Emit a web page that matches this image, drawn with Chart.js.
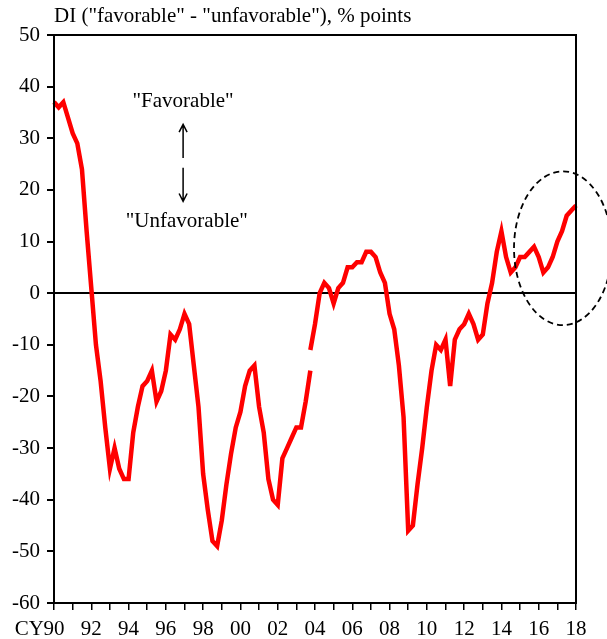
<!DOCTYPE html>
<html>
<head>
<meta charset="utf-8">
<script src="https://cdn.jsdelivr.net/npm/chart.js@4.4.1/dist/chart.umd.min.js"></script>
<style>
  html, body { margin: 0; padding: 0; background: #fff; }
  #wrap { width: 607px; height: 639px; }
</style>
</head>
<body>
<div id="wrap"><canvas id="chartDI"></canvas></div>
<script>
// ── Data: quarterly DI, CY1990 Q1 - CY2018 Q1 ────────────────────────────────
var firstYear = 1990;
var lastYear = 2018;
var tickYears = ['90', '92', '94', '96', '98', '00', '02', '04', '06', '08', '10', '12', '14', '16', '18'];

// old basis: 1990 Q1 - 2003 Q4
var diOld = [
    37, 36, 37, 34, 31, 29, 24, 12,
    1, -10, -17, -26, -34, -30, -34, -36,
    -36, -27, -22, -18, -17, -15, -21, -19,
    -15, -8, -9, -7, -4, -6, -14, -22,
    -35, -42, -48, -49, -44, -37, -31, -26,
    -23, -18, -15, -14, -22, -27, -36, -40,
    -41, -32, -30, -28, -26, -26, -21, -15
];
// new basis: 2003 Q4 - 2018 Q1
var diNew = [
    -11,
    -6, 0, 2, 1, -2, 1, 2, 5,
    5, 6, 6, 8, 8, 7, 4, 2,
    -4, -7, -14, -24, -46, -45, -37, -30,
    -22, -15, -10, -11, -9, -18, -9, -7,
    -6, -4, -6, -9, -8, -2, 2, 8,
    12, 7, 4, 5, 7, 7, 8, 9,
    7, 4, 5, 7, 10, 12, 15, 16,
    17
];

var quarters = [];
for (var y = firstYear; y <= lastYear; y++) {
    for (var q = 1; q <= 4; q++) {
        if (y === lastYear && q > 1) break;
        quarters.push(y + 'Q' + q);
    }
}
var breakIdx = diOld.length - 1;
var oldSeries = quarters.map(function (l, i) { return i < diOld.length ? diOld[i] : null; });
var newSeries = quarters.map(function (l, i) { return i >= breakIdx ? diNew[i - breakIdx] : null; });

var FONT = "'Liberation Serif','Times New Roman',serif";

// ── Plugin: frame, title, annotations, dashed ellipse ────────────────────────
var decor = {
    id: 'decor',
    afterDraw: function (chart) {
        var c = chart.ctx;
        var a = chart.chartArea;
        var xs = chart.scales.x;
        var ys = chart.scales.y;
        c.save();

        // frame
        c.strokeStyle = '#000';
        c.lineWidth = 2;
        c.strokeRect(a.left, a.top, a.right - a.left, a.bottom - a.top);

        c.fillStyle = '#000';
        c.font = '21px ' + FONT;

        // title
        c.textAlign = 'left';
        c.textBaseline = 'middle';
        c.fillText('DI ("favorable" - "unfavorable"), % points', a.left, 16);

        // CY prefix for the first year label
        c.textAlign = 'right';
        c.textBaseline = 'top';
        c.fillText('CY', xs.getPixelForValue(0) - 10, a.bottom + 16);

        // annotations
        c.textAlign = 'center';
        c.textBaseline = 'middle';
        c.fillText('"Favorable"', xs.getPixelForValue(27.7), ys.getPixelForValue(37.2));
        c.fillText('"Unfavorable"', xs.getPixelForValue(28.5), ys.getPixelForValue(13.8));

        var ax = xs.getPixelForValue(27.7);
        c.lineWidth = 1.5;
        c.beginPath();
        c.moveTo(ax, ys.getPixelForValue(26.2));
        c.lineTo(ax, ys.getPixelForValue(32.7));
        c.moveTo(ax - 4, ys.getPixelForValue(31.2));
        c.lineTo(ax, ys.getPixelForValue(32.7));
        c.lineTo(ax + 4, ys.getPixelForValue(31.2));

        c.moveTo(ax, ys.getPixelForValue(24.3));
        c.lineTo(ax, ys.getPixelForValue(17.8));
        c.moveTo(ax - 4, ys.getPixelForValue(19.3));
        c.lineTo(ax, ys.getPixelForValue(17.8));
        c.lineTo(ax + 4, ys.getPixelForValue(19.3));
        c.stroke();

        // dashed ellipse round the latest readings
        var cx = xs.getPixelForValue(109.2);
        var cy = ys.getPixelForValue(8.7);
        var rx = xs.getPixelForValue(109.2 + 10.5) - cx;
        var ry = cy - ys.getPixelForValue(8.7 + 14.9);
        c.setLineDash([6, 4]);
        c.lineWidth = 1.8;
        c.beginPath();
        c.ellipse(cx, cy, rx, ry, 0, 0, Math.PI * 2);
        c.stroke();
        c.restore();
    }
};

new Chart(document.getElementById('chartDI'), {
    type: 'line',
    data: {
        labels: quarters,
        datasets: [
            {
                label: 'DI (old)',
                data: oldSeries,
                borderColor: '#ff0000',
                borderWidth: 4.5,
                pointRadius: 0,
                tension: 0,
                spanGaps: false
            },
            {
                label: 'DI (new)',
                data: newSeries,
                borderColor: '#ff0000',
                borderWidth: 4.5,
                pointRadius: 0,
                tension: 0,
                spanGaps: false
            }
        ]
    },
    options: {
        responsive: true,
        maintainAspectRatio: false,
        animation: false,
        layout: { padding: { top: 35, right: 31, left: 0, bottom: 0 } },
        plugins: {
            legend: { display: false },
            tooltip: { enabled: false }
        },
        scales: {
            x: {
                type: 'category',
                offset: false,
                border: { display: true, color: '#000', width: 2 },
                grid: {
                    drawOnChartArea: false,
                    drawTicks: true,
                    tickLength: 7,
                    lineWidth: 1.5,
                    color: function (ctx) { return ctx.index % 4 === 0 ? '#000' : 'rgba(0,0,0,0)'; }
                },
                ticks: {
                    autoSkip: false,
                    maxRotation: 0,
                    minRotation: 0,
                    padding: 7,
                    color: '#000',
                    font: { family: FONT, size: 21 },
                    callback: function (v, i) { return i % 8 === 0 ? tickYears[i / 8] : ''; }
                },
                afterFit: function (s) { s.height = 36; }
            },
            y: {
                min: -60,
                max: 50,
                border: { display: true, color: '#000', width: 2 },
                grid: {
                    drawOnChartArea: true,
                    drawTicks: true,
                    tickLength: 7,
                    tickColor: '#000',
                    lineWidth: 2,
                    color: function (ctx) { return ctx.tick && ctx.tick.value === 0 ? '#000' : 'rgba(0,0,0,0)'; }
                },
                ticks: {
                    stepSize: 10,
                    padding: 7,
                    color: '#000',
                    font: { family: FONT, size: 21 }
                },
                afterFit: function (s) { s.width = 54; }
            }
        }
    },
    plugins: [decor]
});
</script>
</body>
</html>
